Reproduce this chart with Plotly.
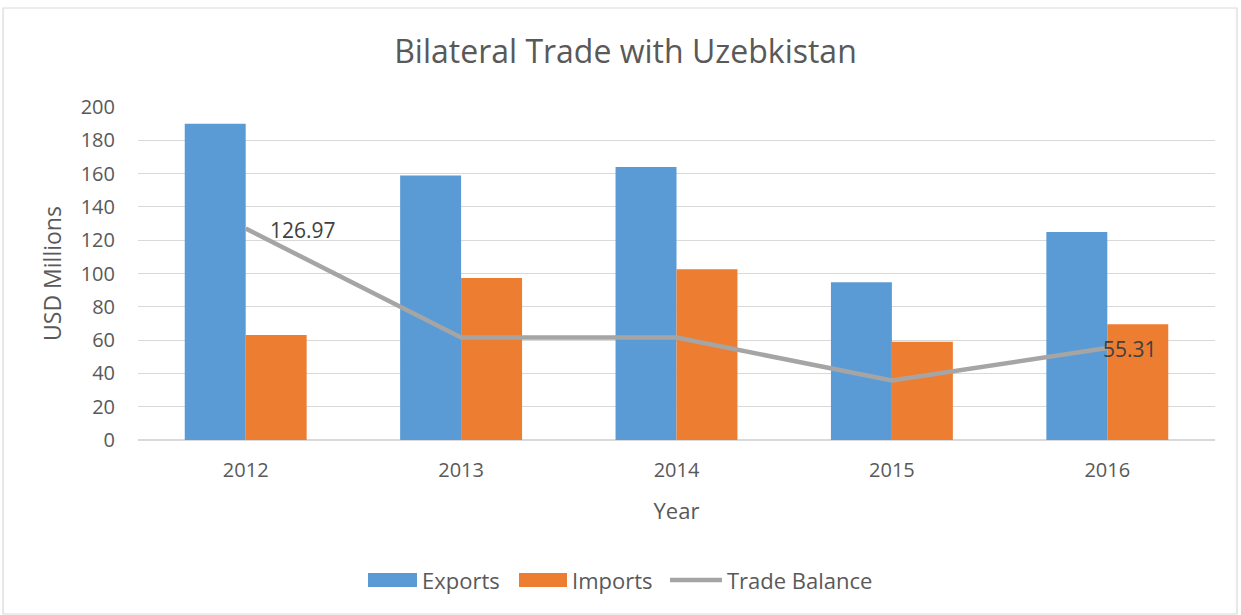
import plotly.graph_objects as go

years = ["2012", "2013", "2014", "2015", "2016"]
exports = [190.0, 158.9, 164.0, 94.7, 124.9]
imports = [63.03, 97.3, 102.5, 59.0, 69.59]
balance = [126.97, 61.6, 61.5, 35.7, 55.31]
series_names = ["Exports", "Imports", "Trade Balance"]
labelled = {0: 22, 4: -6}  # index -> horizontal shift of the data label

FONT = "Open Sans, sans-serif"
GREY = "#595959"
COLORS = ["#5B9BD5", "#ED7D31", "#A5A5A5"]

fig = go.Figure()
fig.add_trace(go.Bar(x=years, y=exports, name=series_names[0], marker=dict(color=COLORS[0], line=dict(width=0))))
fig.add_trace(go.Bar(x=years, y=imports, name=series_names[1], marker=dict(color=COLORS[1], line=dict(width=0))))
fig.add_trace(go.Scatter(x=years, y=balance, name=series_names[2], mode="lines",
                         line=dict(color=COLORS[2], width=4.5)))

for i, shift in labelled.items():
    fig.add_annotation(x=i, y=balance[i], text=f"{balance[i]:.2f}", showarrow=False,
                       xanchor="left", yanchor="middle", xshift=shift, yshift=-1,
                       font=dict(size=21, color="#404040", family=FONT))

# chart border
fig.add_shape(type="rect", xref="paper", yref="paper",
              x0=-0.1253, x1=1.0204, y0=-0.5225, y1=1.2973,
              line=dict(color="#D9D9D9", width=1.2), layer="below")

# legend (drawn below the plot, Excel style)
PX0, PW, PY0, PH = 138, 1077, 440, 333
def px(x):
    return (x - PX0) / PW
def py(y):
    return (PY0 - y) / PH

legend_items = [(368, 417, "bar"), (519, 567, "bar"), (670, 722, "line")]
for (x0, x1, kind), name, col in zip(legend_items, series_names, COLORS):
    if kind == "bar":
        fig.add_shape(type="rect", xref="paper", yref="paper", x0=px(x0), x1=px(x1),
                      y0=py(587), y1=py(573), fillcolor=col, line=dict(width=0))
    else:
        fig.add_shape(type="line", xref="paper", yref="paper", x0=px(x0), x1=px(x1),
                      y0=py(580), y1=py(580), line=dict(color=col, width=4.5))
    fig.add_annotation(xref="paper", yref="paper", x=px(x1 + 3), y=py(580), text=name,
                       showarrow=False, xanchor="left", yanchor="middle",
                       font=dict(size=22, color=GREY, family=FONT))

fig.update_layout(
    width=1241, height=615,
    margin=dict(l=138, r=26, t=107, b=175),
    paper_bgcolor="white", plot_bgcolor="white",
    font=dict(family=FONT, color=GREY, size=20),
    title=dict(text="Bilateral Trade with Uzebkistan", x=0.504, xref="container", xanchor="center",
               y=1 - 52 / 615, yref="container", yanchor="middle",
               font=dict(size=32, color=GREY, family=FONT)),
    barmode="group", bargap=0.434, bargroupgap=0,
    showlegend=False,
    xaxis=dict(type="category", range=[-0.5, len(years) - 0.5],
               title=dict(text="Year", font=dict(size=22, color=GREY), standoff=21),
               showgrid=False, showline=False, ticks="", ticklabelstandoff=16,
               tickfont=dict(size=20, color=GREY)),
    yaxis=dict(title=dict(text="USD Millions", font=dict(size=23, color=GREY), standoff=12),
               range=[0, 200], dtick=20, showgrid=True, gridcolor="#D9D9D9", gridwidth=1.3,
               zeroline=True, zerolinecolor="#D9D9D9", zerolinewidth=1.6,
               showline=False, ticks="", ticklabelstandoff=22,
               tickfont=dict(size=20, color=GREY)),
)

fig.write_html("out.html", config={"displayModeBar": False},
               post_script="document.body.style.margin='0';")
